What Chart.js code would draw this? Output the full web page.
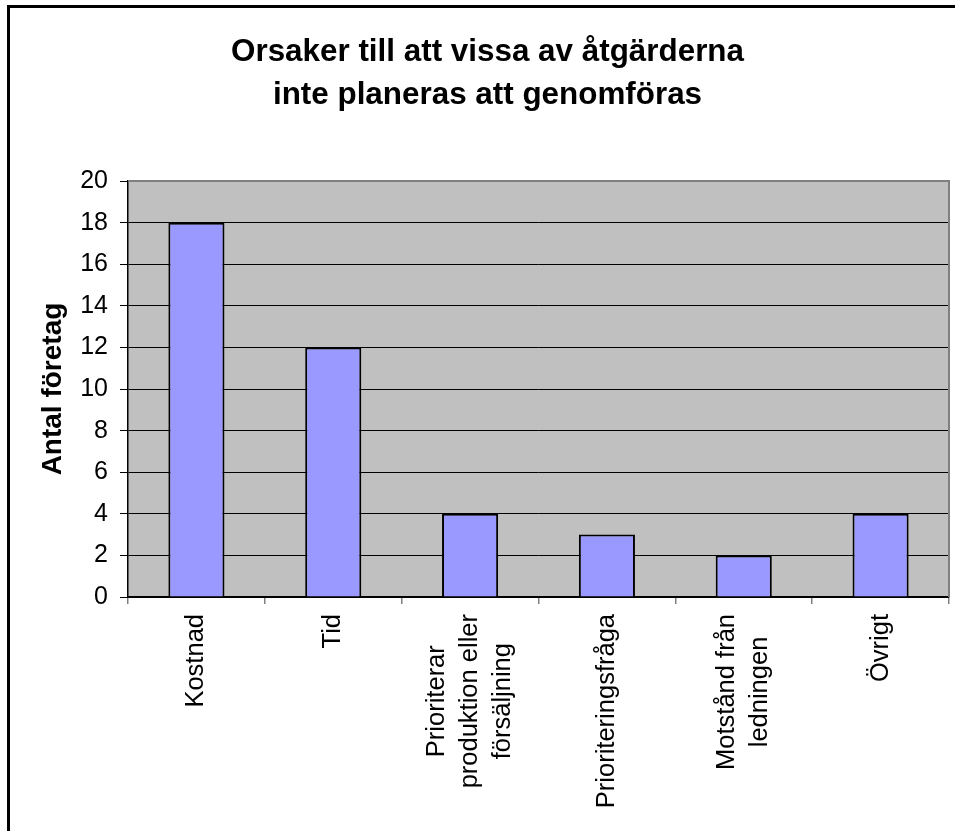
<!DOCTYPE html>
<html>

<head>
    <meta charset="utf-8" />
    <title>Orsaker till att vissa av åtgärderna inte planeras att genomföras</title>
    <script src="https://cdn.jsdelivr.net/npm/chart.js/dist/chart.umd.js"></script>
    <style>
        html, body {
            margin: 0;
            padding: 0;
            background: #ffffff;
            overflow: hidden;
        }

        #myChart {
            display: block;
        }
    </style>
</head>

<body>
    <canvas id="myChart" width="955" height="831"></canvas>
    <script>
        // data
        var titleLines = ['Orsaker till att vissa av åtgärderna', 'inte planeras att genomföras'];
        var yTitle = 'Antal företag';
        var categories = [
            'Kostnad',
            'Tid',
            ['Prioriterar', 'produktion eller', 'försäljning'],
            'Prioriteringsfråga',
            ['Motstånd från', 'ledningen'],
            'Övrigt'
        ];
        var values = [18, 12, 4, 3, 2, 4];
        var yMin = 0, yMax = 20, yStep = 2;

        var FONT = '"Liberation Sans", Arial, sans-serif';

        // grey plot area, grey top/right frame, outer page frame
        var frame = {
            id: 'frame',
            beforeDraw: function (chart) {
                var a = chart.chartArea, ctx = chart.ctx;
                ctx.save();
                ctx.fillStyle = '#c0c0c0';
                ctx.fillRect(a.left, a.top, a.right - a.left, a.bottom - a.top);
                ctx.restore();
            },
            beforeDatasetsDraw: function (chart) {
                var a = chart.chartArea, ctx = chart.ctx;
                ctx.save();
                ctx.strokeStyle = '#808080';
                ctx.lineWidth = 2;
                ctx.beginPath();
                ctx.moveTo(a.left, a.top);
                ctx.lineTo(a.right, a.top);
                ctx.lineTo(a.right, a.bottom);
                ctx.stroke();
                ctx.restore();
            },
            afterDraw: function (chart) {
                var ctx = chart.ctx;
                ctx.save();
                ctx.fillStyle = '#000';
                ctx.fillRect(7, 5, 3, chart.height);
                ctx.fillRect(7, 5, chart.width, 3);
                ctx.restore();
            }
        };

        // rotated, centred multi-line category labels
        var xLabels = {
            id: 'xLabels',
            afterDraw: function (chart) {
                var ctx = chart.ctx;
                var xs = chart.scales.x;
                var top = chart.chartArea.bottom + 17;
                var lineH = 33;
                ctx.save();
                ctx.font = '25.5px ' + FONT;
                ctx.fillStyle = '#000';
                ctx.textAlign = 'center';
                ctx.textBaseline = 'middle';
                chart.data.labels.forEach(function (lab, i) {
                    var lines = Array.isArray(lab) ? lab : [lab];
                    var w = 0;
                    lines.forEach(function (l) { w = Math.max(w, ctx.measureText(l).width); });
                    var x = xs.getPixelForValue(i);
                    ctx.save();
                    ctx.translate(x, top);
                    ctx.rotate(-Math.PI / 2);
                    lines.forEach(function (l, k) {
                        ctx.fillText(l, -w / 2, (k - (lines.length - 1) / 2) * lineH);
                    });
                    ctx.restore();
                });
                ctx.restore();
            }
        };

        var myChart = new Chart(document.getElementById('myChart'), {
            type: 'bar',
            data: {
                labels: categories,
                datasets: [{
                    data: values,
                    backgroundColor: '#9999ff',
                    borderColor: '#000000',
                    borderWidth: 2,
                    barPercentage: 0.41,
                    categoryPercentage: 1
                }]
            },
            options: {
                responsive: false,
                animation: false,
                layout: { padding: { left: 26, right: 6, top: 0, bottom: 0 } },
                plugins: {
                    legend: { display: false },
                    tooltip: { enabled: false },
                    title: {
                        display: true,
                        text: titleLines,
                        color: '#000',
                        font: { family: FONT, size: 31.4, weight: 'bold', lineHeight: 1.37 },
                        padding: { top: 31, bottom: 64 }
                    }
                },
                scales: {
                    x: {
                        afterFit: function (s) { s.height = 234; },
                        ticks: { display: false },
                        grid: {
                            offset: true,
                            drawOnChartArea: false,
                            tickLength: 7,
                            color: '#808080',
                            lineWidth: 1.5
                        },
                        border: { color: '#000', width: 1.5 }
                    },
                    y: {
                        min: yMin,
                        max: yMax,
                        afterFit: function (s) { s.width = 102; },
                        ticks: {
                            stepSize: yStep,
                            color: '#000',
                            padding: 12,
                            font: { family: FONT, size: 25 }
                        },
                        grid: {
                            color: function (c) { return c.tick && c.tick.value === yMax ? '#808080' : '#000'; },
                            tickColor: '#000',
                            tickLength: 8,
                            lineWidth: 1
                        },
                        border: { color: '#000', width: 1.5 },
                        title: {
                            display: true,
                            text: yTitle,
                            color: '#000',
                            font: { family: FONT, size: 28, weight: 'bold', lineHeight: 1.2 },
                            padding: { top: 10, bottom: 0 }
                        }
                    }
                }
            },
            plugins: [frame, xLabels]
        });
    </script>
</body>

</html>
